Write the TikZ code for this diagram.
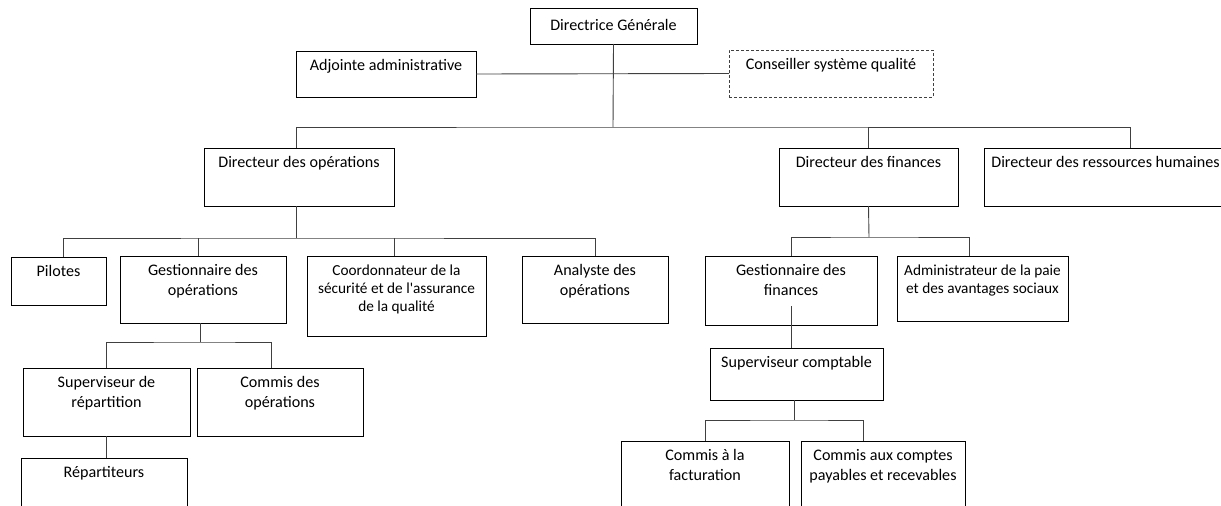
\documentclass[tikz,border=0pt]{standalone}
\usepackage{fontspec}
\setmainfont{Carlito}[Ligatures=TeXOff]
\newcommand{\bxfont}{\fontsize{16.1}{20}\selectfont}
\newcommand{\smfont}{\fontsize{15.3}{18}\selectfont}
\newcommand{\orgbox}[6][]{\node[box,#1] (#2) at (#3) {\parbox[c][#5pt][t]{#4pt}{\centering\rule{0pt}{19pt}#6}};}
\begin{document}
\begin{tikzpicture}[x=1pt,y=-1pt,
  box/.style={draw=black, line width=0.9pt, anchor=north west, inner sep=0pt, outer sep=0pt, font=\bxfont},
  dashbox/.style={draw=black!75, dash pattern=on 3pt off 2pt},
  link/.style={draw=black!75, line width=0.9pt}]
\useasboundingbox (0,0) rectangle (1221,506);
% top level
\node[box] (dg) at (530,8) {\parbox[c][36pt][t]{167pt}{\centering\rule{0pt}{23pt}Directrice Générale}};
\orgbox{adj}{296,51}{180}{46}{Adjointe administrative}
\orgbox[dashbox]{csq}{729,50}{204}{47}{Conseiller système qualité}
% directors
\orgbox{do}{204,148}{190}{58}{Directeur des opérations}
\orgbox{df}{779,148}{179}{58}{Directeur des finances}
\orgbox{drh}{984,148}{243}{58}{Directeur des ressources humaines}
% operations
\orgbox{pil}{11,257}{95}{48}{Pilotes}
\orgbox{gop}{120,256}{166}{67}{Gestionnaire des\\opérations}
\orgbox[font=\smfont]{coo}{307,256}{179}{80}{Coordonnateur de la\\sécurité et de l'assurance\\de la qualité}
\orgbox{ana}{522,256}{146}{67}{Analyste des\\opérations}
\orgbox{srep}{23,368}{167}{68}{Superviseur de\\répartition}
\orgbox{cop}{197,368}{166}{68}{Commis des\\opérations}
\orgbox{rep}{21,458}{166}{70}{Répartiteurs}
% finance
\orgbox{gf}{705,256}{172}{69}{Gestionnaire des\\finances}
\orgbox[font=\smfont]{adm}{897,256}{171}{65}{Administrateur de la paie\\et des avantages sociaux}
\orgbox{sc}{710,348}{173}{52}{Superviseur comptable}
\orgbox{caf}{621,441}{168}{80}{Commis à la\\facturation}
\orgbox{cac}{801,441}{164}{80}{Commis aux comptes\\payables et recevables}
% connectors top
\coordinate (j1) at (613,127);
\draw[link] (dg.south) -- (j1);
\draw[link] (adj.east) -- (csq.west);
\coordinate (doT) at ([xshift=-3pt]do.north);
\coordinate (drhT) at ([xshift=24.5pt]drh.north);
\draw[link] (doT) |- (j1) -| (drhT);
\draw[link] (df.north) -- (df.north |- j1);
% operations
\coordinate (j2) at (296,238);
\draw[link] (do.south -| doT) -- (j2);
\coordinate (pilT) at ([xshift=4.5pt]pil.north);
\coordinate (gopT) at ([xshift=-5pt]gop.north);
\coordinate (cooT) at ([xshift=-2.5pt]coo.north);
\draw[link] (pilT) |- (j2) -| (ana.north);
\draw[link] (gopT) -- (gopT |- j2);
\draw[link] (cooT) -- (cooT |- j2);
\coordinate (j3) at (200,342);
\draw[link] (gop.south -| j3) -- (j3);
\coordinate (copT) at ([xshift=-9pt]cop.north);
\draw[link] (srep.north) |- (j3) -| (copT);
\draw[link] (srep.south) -- (srep.south |- rep.north);
% finance
\coordinate (j4) at (869,237);
\draw[link] (df.south) -- (j4);
\coordinate (admT) at ([xshift=-13.5pt]adm.north);
\draw[link] (gf.north) |- (j4) -| (admT);
\coordinate (gfI) at ([yshift=19pt]gf.south);
\draw[link] (gfI) -- (gfI |- sc.north);
\coordinate (j5) at (794,420);
\draw[link] (sc.south -| j5) -- (j5);
\coordinate (cacT) at ([xshift=-20pt]cac.north);
\draw[link] (caf.north) |- (j5) -| (cacT);
\end{tikzpicture}
\end{document}
